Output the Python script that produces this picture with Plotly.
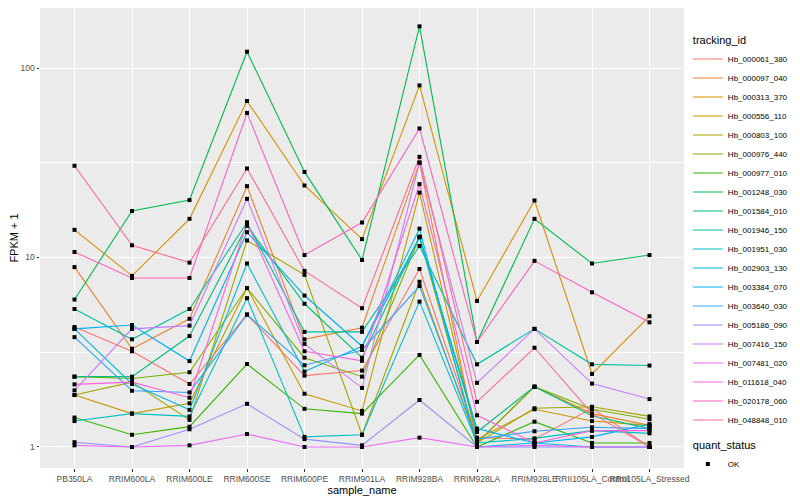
import plotly.graph_objects as go

samples = ["PB350LA", "RRIM600LA", "RRIM600LE", "RRIM600SE", "RRIM600PE", "RRIM901LA",
           "RRIM928BA", "RRIM928LA", "RRIM928LE", "RRII105LA_Control", "RRII105LA_Stressed"]

tracking_ids = ["Hb_000061_380", "Hb_000097_040", "Hb_000313_370", "Hb_000556_110", "Hb_000803_100",
                "Hb_000976_440", "Hb_000977_010", "Hb_001248_030", "Hb_001584_010", "Hb_001946_150",
                "Hb_001951_030", "Hb_002903_130", "Hb_003384_070", "Hb_003640_030", "Hb_005186_090",
                "Hb_007416_150", "Hb_007481_020", "Hb_011618_040", "Hb_020178_060", "Hb_048848_010"]

colors = ["#F8766D", "#EA8331", "#D89000", "#C09B00", "#A3A500", "#7CAE00", "#39B600", "#00BB4E",
          "#00BF7D", "#00C1A3", "#00BFC4", "#00BAE0", "#00B0F6", "#35A2FF", "#9590FF", "#C77CFF",
          "#E76BF3", "#FA62DB", "#FF62BC", "#FF6C91"]

# FPKM + 1 values per tracking_id, in sample order
fpkm = [
    [4.3, 3.2, 2.15, 5.0, 2.38, 2.53, 8.7, 1.12, 1.1, 1.6, 1.0],
    [8.9, 3.3, 4.75, 23.8, 3.7, 4.26, 31.7, 1.05, 2.08, 1.5, 1.3],
    [14.0, 8.0, 16.0, 67.0, 24.0, 12.5, 81.0, 5.9, 20.0, 2.43, 4.9],
    [1.88, 1.5, 1.7, 6.9, 1.91, 1.55, 22.0, 1.1, 1.58, 1.37, 1.3],
    [1.88, 2.2, 1.39, 12.3, 8.1, 1.16, 7.45, 1.05, 1.6, 1.63, 1.45],
    [2.35, 2.3, 2.48, 6.9, 2.96, 2.35, 12.8, 1.05, 2.08, 1.58, 1.4],
    [1.43, 1.16, 1.28, 2.74, 1.59, 1.5, 3.06, 1.0, 1.36, 1.05, 1.05],
    [6.0, 17.6, 20.1, 122.0, 28.3, 9.7, 166.0, 3.58, 16.0, 9.3, 10.3],
    [2.35, 2.35, 3.85, 14.7, 5.7, 2.96, 12.9, 1.2, 2.08, 1.46, 1.25],
    [5.35, 3.7, 5.35, 15.3, 4.05, 4.05, 11.5, 2.73, 4.2, 2.73, 2.69],
    [1.37, 1.5, 1.45, 6.1, 1.13, 1.16, 5.85, 1.05, 1.11, 1.22, 1.18],
    [4.2, 2.15, 1.57, 9.3, 2.5, 3.4, 14.2, 1.0, 1.05, 1.0, 1.0],
    [4.2, 4.4, 2.84, 13.6, 6.3, 3.4, 12.8, 1.25, 1.05, 1.13, 1.32],
    [3.8, 1.98, 1.94, 5.0, 2.7, 3.25, 7.07, 1.1, 1.21, 1.27, 1.25],
    [1.06, 1.0, 1.24, 1.69, 1.1, 1.02, 1.77, 1.0, 1.0, 1.0, 1.0],
    [1.99, 4.2, 4.37, 20.4, 3.5, 2.05, 31.7, 2.18, 4.2, 2.16, 1.79],
    [1.02, 1.0, 1.02, 1.17, 1.0, 1.0, 1.12, 1.0, 1.02, 1.0, 1.0],
    [2.14, 2.2, 1.82, 15.3, 3.2, 2.85, 24.4, 1.47, 1.05, 1.22, 1.22],
    [10.7, 7.8, 7.8, 58.0, 10.3, 15.3, 48.0, 3.58, 9.6, 6.55, 4.55],
    [30.5, 11.6, 9.4, 29.5, 8.5, 5.4, 34.0, 1.73, 3.34, 1.5, 1.0],
]

y_ticks = [1, 10, 100]
y_minor = [10 ** 0.5, 10 ** 1.5]

fig = go.Figure()
for tid, col, vals in zip(tracking_ids, colors, fpkm):
    fig.add_trace(go.Scatter(
        x=samples, y=vals, mode="lines", name=tid,
        line=dict(color=col, width=1.1),
        legendgroup="tid", legendgrouptitle_text="tracking_id",
    ))

all_x = [s for vals in fpkm for s in samples]
all_y = [v for vals in fpkm for v in vals]
fig.add_trace(go.Scatter(
    x=all_x, y=all_y, mode="markers", name="OK",
    marker=dict(color="black", size=4, symbol="square"),
    legendgroup="qs", legendgrouptitle_text="quant_status",
))

font = "Liberation Sans, Arial, sans-serif"
fig.update_layout(
    width=792, height=492,
    margin=dict(l=32, r=116, t=0, b=32, autoexpand=False),
    paper_bgcolor="white", plot_bgcolor="#EBEBEB",
    font=dict(family=font, size=9, color="#4D4D4D"),
    showlegend=True,
    legend=dict(
        x=1.006, y=0.962, xanchor="left", yanchor="top",
        font=dict(size=8, color="black"),
        grouptitlefont=dict(size=11, color="black"),
        tracegroupgap=6, itemwidth=30,
        bgcolor="rgba(0,0,0,0)",
    ),
    xaxis=dict(
        type="category", categoryorder="array", categoryarray=samples,
        range=[-0.6, len(samples) - 0.4],
        showgrid=True, gridcolor="white", gridwidth=1.1,
        ticks="outside", ticklen=2.5, tickcolor="#333333", tickangle=0,
        tickfont=dict(size=8.5, color="#4D4D4D"),
        title=dict(text="sample_name", font=dict(size=11, color="black"), standoff=0),
        zeroline=False, showline=False,
    ),
    yaxis=dict(
        type="log", range=[-0.111, 2.317],
        tickvals=y_ticks, ticktext=[str(v) for v in y_ticks],
        showgrid=True, gridcolor="white", gridwidth=1.1,
        ticks="outside", ticklen=2.5, tickcolor="#333333",
        tickfont=dict(size=8.5, color="#4D4D4D"),
        minor=dict(tickvals=y_minor, showgrid=True, gridcolor="white", gridwidth=0.55, ticks=""),
        title=dict(text="FPKM + 1", font=dict(size=11, color="black"), standoff=2),
        zeroline=False, showline=False,
    ),
)

fig.write_html("out.html")
